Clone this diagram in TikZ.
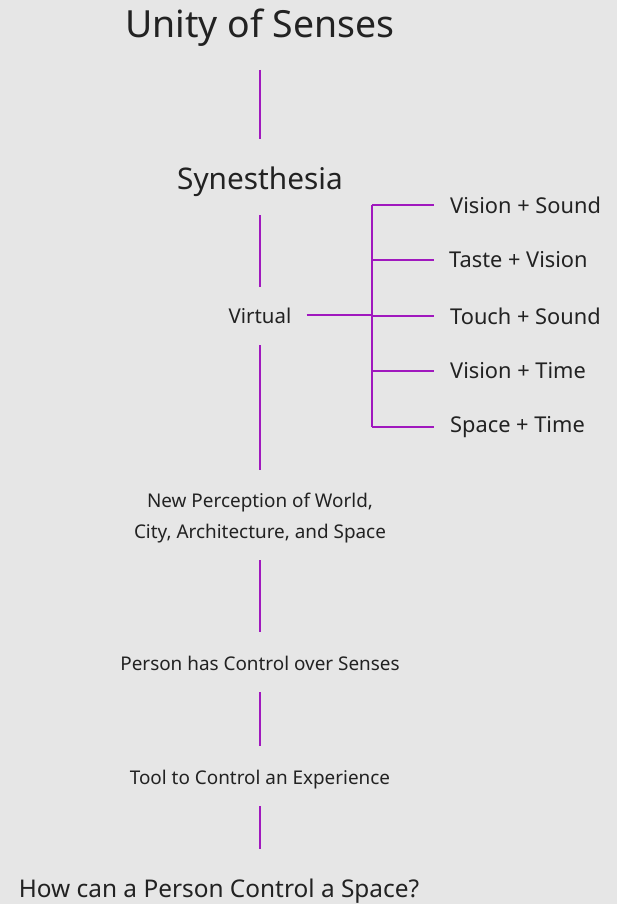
\documentclass[tikz,border=0pt]{standalone}
\usepackage{fontspec}
\setmainfont{Noto Sans}
\definecolor{bg}{HTML}{E6E6E6}
\definecolor{ink}{HTML}{222222}
\definecolor{wire}{RGB}{160,24,190}
\begin{document}
\begin{tikzpicture}[x=1pt,y=-1pt,
  txt/.style={inner sep=0pt, text=ink, align=center},
  big/.style={txt, font=\fontsize{37.4}{40}\selectfont},
  mid/.style={txt, font=\fontsize{29.8}{32}\selectfont},
  ask/.style={txt, font=\fontsize{24.4}{28}\selectfont},
  small/.style={txt, font=\fontsize{18.9}{31}\selectfont},
  leaf/.style={txt, anchor=west, font=\fontsize{21.8}{24}\selectfont},
  link/.style={draw=wire, line width=1.5pt},
  twig/.style={draw=wire, line width=1.1pt},
  stem/.style={draw=wire, line width=2pt}]
\fill[bg] (0,0) rectangle (617,904);
\useasboundingbox (0,0) rectangle (617,904);

% main column
\node[big]   (title) at (260,28)  {Unity of Senses};
\node[mid]   (syn)   at (260,182) {Synesthesia};
\node[small, font=\fontsize{20.4}{24}\selectfont] (virt) at (260,316) {Virtual};
\node[small] (newp)  at (260,518) {New Perception of World,\\City, Architecture, and Space};
\node[small] (pers)  at (260,663) {Person has Control over Senses};
\node[small] (tool)  at (260,780) {Tool to Control an Experience};
\node[ask]   (ques)  at (219,891) {How can a Person Control a Space?};

% branch labels
\node[leaf] (b1) at (450,205) {Vision + Sound};
\node[leaf] (b2) at (449,260) {Taste + Vision};
\node[leaf] (b3) at (450,316) {Touch + Sound};
\node[leaf] (b4) at (450,371) {Vision + Time};
\node[leaf] (b5) at (450,427) {Space + Time};

% vertical connectors
\draw[link, shorten <=42pt, shorten >=43pt] (title.center) -- (syn.center);
\draw[link, shorten <=33pt, shorten >=29pt] (syn.center) -- (virt.center);
\draw[link, shorten <=29pt, shorten >=48pt] (virt.center) -- (newp.center);
\draw[link, shorten <=42pt, shorten >=31pt] (newp.center) -- (pers.center);
\draw[link, shorten <=29pt, shorten >=34pt] (pers.center) -- (tool.center);
\draw[link, shorten <=26pt, shorten >=42pt] (tool.center) -- (tool.center |- ques.center);

% branching bracket
\coordinate (hub) at (372,315);
\draw[stem, shorten <=15pt] (virt.east |- hub) -- (hub);
\draw[twig] (hub |- b1.west) -- (hub |- b5.west);
\foreach \b in {b1,b2,b3,b4,b5}
  \draw[twig] (hub |- \b.west) -- ([xshift=-16pt]\b.west -| b1.west);
\end{tikzpicture}
\end{document}
